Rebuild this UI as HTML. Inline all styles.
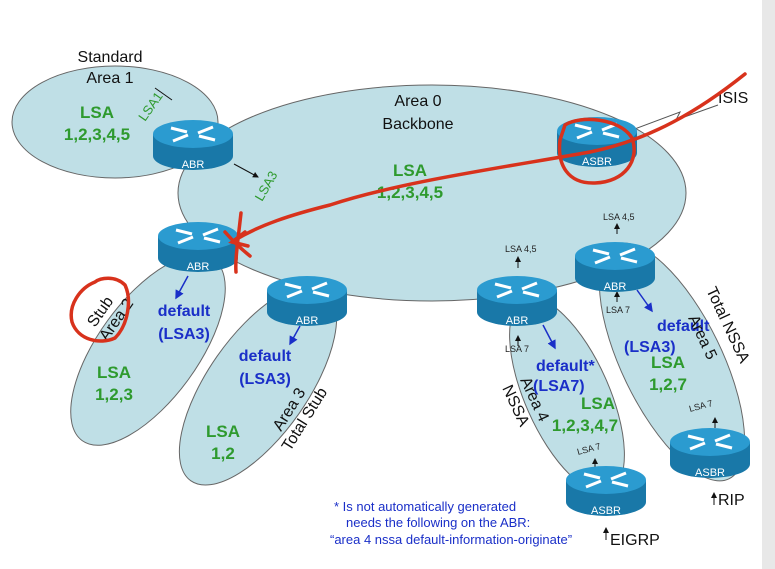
<!DOCTYPE html>
<html><head><meta charset="utf-8"><style>
html,body{margin:0;padding:0;background:#fff;}
svg{display:block;font-family:"Liberation Sans",Arial,sans-serif;}
.g{fill:#2e9a2e;font-weight:bold;font-size:17px;}
.b{fill:#1a2fc8;font-weight:bold;font-size:16px;}
.k{fill:#111;font-size:16px;}
.s{fill:#222;font-size:9px;}
</style></head><body>
<svg width="775" height="569" viewBox="0 0 775 569">
<defs>
<marker id="ah" markerWidth="6" markerHeight="6" refX="5" refY="3" orient="auto"><path d="M0,0 L6,3 L0,6z" fill="#111"/></marker>
<marker id="bh" markerWidth="6" markerHeight="6" refX="5" refY="3" orient="auto"><path d="M0,0 L6,3 L0,6z" fill="#1a2fc8"/></marker>
<g id="r">
<path d="M-40,0 L-40,22 A40,14 0 0 0 40,22 L40,0 Z" fill="#1978a8"/>
<ellipse cx="0" cy="0" rx="40" ry="14" fill="#2b9bd0"/>
<g stroke="#fff" stroke-width="3" fill="none">
<path d="M-22,-6 L-6,-2"/><path d="M22,6 L6,2"/><path d="M-20,7 L-5,1"/><path d="M20,-7 L5,-1"/>
</g>
</g>
</defs>
<rect x="762" y="0" width="13" height="569" fill="#e8e8e8"/>
<g fill="#bfdfe6" stroke="#666" stroke-width="1">
<ellipse cx="115" cy="122" rx="103" ry="56"/>
<ellipse cx="432" cy="193" rx="254" ry="108"/>
<ellipse cx="148" cy="350" rx="50" ry="112" transform="rotate(36 148 350)"/>
<ellipse cx="258" cy="385" rx="50" ry="117" transform="rotate(35 258 385)"/>
<ellipse cx="567" cy="395" rx="42" ry="105" transform="rotate(-24 567 395)"/>
<ellipse cx="672" cy="362" rx="50" ry="130" transform="rotate(-26 672 362)"/>
</g>
<path d="M632,130 L680,112 L676,120 L718,105" fill="none" stroke="#555" stroke-width="1"/>
<text x="718" y="103" class="k">ISIS</text>
<text x="110" y="62" class="k" text-anchor="middle">Standard</text>
<text x="110" y="83" class="k" text-anchor="middle">Area 1</text>
<text x="97" y="118" class="g" text-anchor="middle">LSA</text>
<text x="97" y="140" class="g" text-anchor="middle">1,2,3,4,5</text>
<text x="0" y="0" fill="#2e9a2e" font-size="13" transform="translate(145,122) rotate(-55)">LSA1</text>
<text x="0" y="0" fill="#2e9a2e" font-size="13" transform="translate(262,202) rotate(-60)">LSA3</text>
<path d="M155,88 L172,100" stroke="#111" stroke-width="1"/>
<path d="M234,164 L258,177" stroke="#111" stroke-width="1" marker-end="url(#ah)"/>
<text x="418" y="106" class="k" text-anchor="middle">Area 0</text>
<text x="418" y="129" class="k" text-anchor="middle">Backbone</text>
<text x="410" y="176" class="g" text-anchor="middle">LSA</text>
<text x="410" y="198" class="g" text-anchor="middle">1,2,3,4,5</text>
<text x="0" y="0" class="k" transform="translate(95,328) rotate(-55)">Stub</text>
<text x="0" y="0" class="k" transform="translate(107,342) rotate(-55)">Area 2</text>
<text x="184" y="316" class="b" text-anchor="middle">default</text>
<text x="184" y="339" class="b" text-anchor="middle">(LSA3)</text>
<text x="114" y="378" class="g" text-anchor="middle">LSA</text>
<text x="114" y="400" class="g" text-anchor="middle">1,2,3</text>
<path d="M188,276 L176,298" stroke="#1a2fc8" stroke-width="1.5" marker-end="url(#bh)"/>
<text x="265" y="361" class="b" text-anchor="middle">default</text>
<text x="265" y="384" class="b" text-anchor="middle">(LSA3)</text>
<text x="223" y="437" class="g" text-anchor="middle">LSA</text>
<text x="223" y="459" class="g" text-anchor="middle">1,2</text>
<text x="0" y="0" class="k" transform="translate(281,432) rotate(-58)">Area 3</text>
<text x="0" y="0" class="k" transform="translate(290,452) rotate(-58)">Total Stub</text>
<path d="M300,326 L290,344" stroke="#1a2fc8" stroke-width="1.5" marker-end="url(#bh)"/>
<text x="536" y="371" class="b" font-size="15">default*</text>
<text x="533" y="391" class="b" font-size="15">(LSA7)</text>
<text x="598" y="409" class="g" text-anchor="middle">LSA</text>
<text x="585" y="431" class="g" text-anchor="middle">1,2,3,4,7</text>
<text x="0" y="0" class="k" transform="translate(520,380) rotate(65)">Area 4</text>
<text x="0" y="0" class="k" transform="translate(502,388) rotate(65)">NSSA</text>
<path d="M543,325 L555,348" stroke="#1a2fc8" stroke-width="1.5" marker-end="url(#bh)"/>
<text x="505" y="252" class="s">LSA 4,5</text>
<path d="M518,268 L518,257" stroke="#111" marker-end="url(#ah)"/>
<path d="M518,346 L518,336" stroke="#111" marker-end="url(#ah)"/>
<text x="505" y="352" class="s">LSA 7</text>
<text x="0" y="0" class="s" transform="translate(578,455) rotate(-15)">LSA 7</text>
<path d="M595,469 L595,459" stroke="#111" marker-end="url(#ah)"/>
<text x="657" y="331" class="b">default</text>
<text x="624" y="352" class="b">(LSA3)</text>
<text x="668" y="368" class="g" text-anchor="middle">LSA</text>
<text x="668" y="390" class="g" text-anchor="middle">1,2,7</text>
<text x="0" y="0" class="k" transform="translate(688,318) rotate(65)">Area 5</text>
<text x="0" y="0" class="k" transform="translate(706,290) rotate(65)">Total NSSA</text>
<path d="M637,290 L652,311" stroke="#1a2fc8" stroke-width="1.5" marker-end="url(#bh)"/>
<text x="603" y="220" class="s">LSA 4,5</text>
<path d="M617,234 L617,224" stroke="#111" marker-end="url(#ah)"/>
<path d="M617,302 L617,292" stroke="#111" marker-end="url(#ah)"/>
<text x="606" y="313" class="s">LSA 7</text>
<text x="0" y="0" class="s" transform="translate(690,412) rotate(-15)">LSA 7</text>
<path d="M715,428 L715,418" stroke="#111" marker-end="url(#ah)"/>
<use href="#r" x="193" y="134"/>
<use href="#r" x="198" y="236"/>
<use href="#r" x="307" y="290"/>
<use href="#r" x="517" y="290"/>
<use href="#r" x="615" y="256"/>
<use href="#r" x="597" y="131"/>
<use href="#r" x="606" y="480"/>
<use href="#r" x="710" y="442"/>
<g fill="#fff" font-size="11" text-anchor="middle">
<text x="193" y="168">ABR</text><text x="198" y="270">ABR</text><text x="307" y="324">ABR</text>
<text x="517" y="324">ABR</text><text x="615" y="290">ABR</text><text x="597" y="165">ASBR</text>
<text x="606" y="514">ASBR</text><text x="710" y="476">ASBR</text>
</g>
<path d="M606,540 L606,528" stroke="#111" marker-end="url(#ah)"/>
<text x="610" y="545" class="k">EIGRP</text>
<path d="M714,505 L714,493" stroke="#111" marker-end="url(#ah)"/>
<text x="718" y="505" class="k">RIP</text>
<g fill="#1a2fc8" font-size="13">
<text x="334" y="511">* Is not automatically generated</text>
<text x="346" y="527">needs the following on the ABR:</text>
<text x="330" y="544">“area 4 nssa default-information-originate”</text>
</g>
<g fill="none" stroke="#d8321c" stroke-width="3.5" stroke-linecap="round">
<path d="M745,74 C700,110 650,140 590,152 C500,168 400,182 330,205 C290,215 260,225 235,240"/>
<path d="M245,232 L232,242 L248,246"/>
<path d="M241,213 C238,240 235,260 236,272"/>
<path d="M225,232 C232,240 240,248 250,256"/>
<path d="M565,125 C580,115 620,118 632,138 C640,160 625,182 595,183 C568,184 557,165 560,140 Z"/>
<path d="M95,282 C80,288 68,305 72,322 C78,340 100,345 115,338 C128,325 132,300 125,285 C115,275 100,278 95,282 Z"/>
</g>
</svg>
</body></html>
